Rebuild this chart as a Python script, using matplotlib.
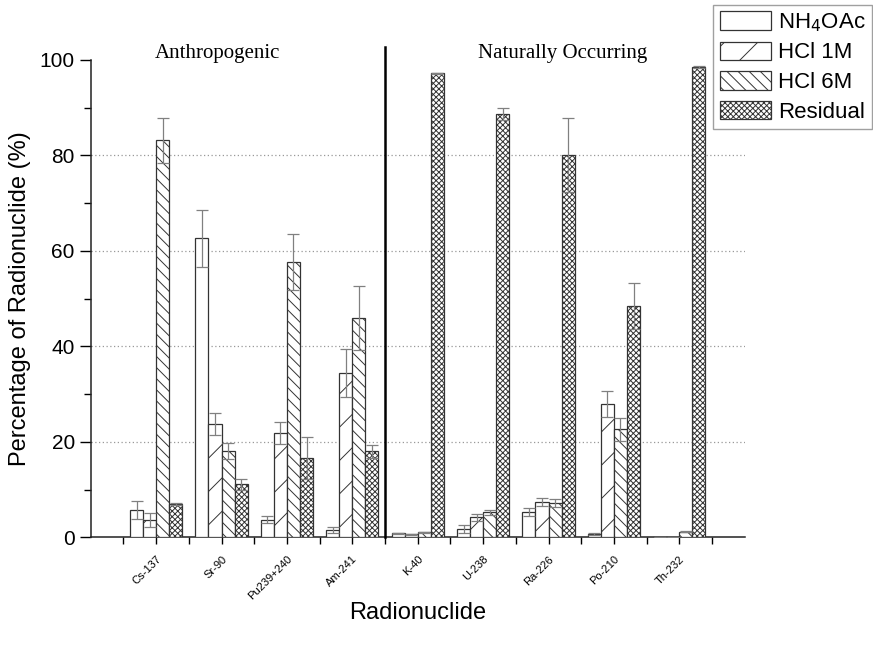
import numpy as np
import matplotlib
matplotlib.use('Agg')
import matplotlib.pyplot as plt

plt.rcParams['font.family'] = ['Liberation Sans', 'DejaVu Sans']
plt.rcParams['hatch.linewidth'] = 0.7
plt.rcParams['hatch.color'] = '#333333'

radionucleidos = ['Cs-137', 'Sr-90', 'Pu239+240', 'Am-241', 'K-40',
                  'U-238', 'Ra-226', 'Po-210', 'Th-232']
fracciones = ['NH$_4$OAc', 'HCl 1M', 'HCl 6M', 'Residual']

nh4oac = [5.7, 62.6, 3.7, 1.5, 0.8, 1.7, 5.3, 0.6, 0.1]
hcl_1m = [3.6, 23.7, 21.8, 34.4, 0.6, 4.2, 7.4, 27.9, 0.1]
hcl_6m = [83.2, 18.0, 57.7, 45.9, 1.1, 5.2, 7.2, 22.6, 1.2]
residual = [6.9, 11.1, 16.6, 18.0, 97.2, 88.7, 80.1, 48.4, 98.5]

err_nh4oac = [1.9, 6.0, 0.7, 0.6, 0.1, 0.8, 0.8, 0.2, 0.0]
err_hcl_1m = [1.5, 2.3, 2.3, 5.0, 0.1, 0.7, 0.9, 2.7, 0.0]
err_hcl_6m = [4.7, 1.7, 5.8, 6.7, 0.1, 0.6, 0.9, 2.4, 0.1]
err_residual = [0.2, 1.1, 4.4, 1.3, 0.1, 1.2, 7.7, 4.8, 0.2]

series = [nh4oac, hcl_1m, hcl_6m, residual]
errores = [err_nh4oac, err_hcl_1m, err_hcl_6m, err_residual]
tramas = ['', '/', '\\\\\\', 'xxxxxx']

fig = plt.figure(figsize=(8.73, 6.45), dpi=100)
ax = fig.add_axes([0.104, 0.167, 0.749, 0.74])

x = np.arange(1, len(radionucleidos) + 1)
ancho = 0.2
for i, (vals, errs, trama, nombre) in enumerate(zip(series, errores, tramas, fracciones)):
    pos = x + (i - 1.5) * ancho
    ax.bar(pos, vals, ancho, color='white', edgecolor='#333333', linewidth=0.9,
           hatch=trama, label=nombre, zorder=3)
    ax.errorbar(pos, vals, yerr=errs, fmt='none', ecolor='#808080',
                elinewidth=0.9, capsize=4, capthick=0.9, zorder=4)

ax.set_xlim(0, 10)
ax.set_ylim(0, 100)
ax.set_xticks(x)
ax.set_xticks(np.arange(0.5, 10, 1.0), minor=True)
ax.set_xticklabels(radionucleidos, rotation=45, ha='right', fontsize=8,
                   rotation_mode='anchor')
ax.set_yticks([0, 20, 40, 60, 80, 100])
ax.set_yticks(np.arange(10, 100, 20), minor=True)
ax.tick_params(axis='y', labelsize=15, length=8, width=1)
ax.tick_params(axis='y', which='minor', length=5, width=1)
ax.tick_params(axis='x', which='both', length=5, width=1, pad=7)

for y in [20, 40, 60, 80]:
    ax.axhline(y, color='#999999', linestyle=(0, (1, 2)), linewidth=0.9, zorder=1)

for lado in ['top', 'right']:
    ax.spines[lado].set_visible(False)
for lado in ['left', 'bottom']:
    ax.spines[lado].set_linewidth(1.1)
    ax.spines[lado].set_color('#222222')

ax.plot([4.5, 4.5], [0, 102.8], color='black', linewidth=1.8, clip_on=False, zorder=5)
ax.text(1.93, 101.3, 'Anthropogenic', family='Liberation Serif', fontsize=15,
        ha='center', va='center')
ax.text(7.22, 101.3, 'Naturally Occurring', family='Liberation Serif', fontsize=15,
        ha='center', va='center')

ax.set_xlabel('Radionuclide', fontsize=17, labelpad=0)
ax.set_ylabel('Percentage of Radionuclide (%)', fontsize=17, labelpad=6)

leg = fig.legend(loc='upper right', bbox_to_anchor=(0.999, 0.993), fontsize=16,
                 frameon=True, fancybox=False, edgecolor='#888888',
                 handlelength=2.3, handleheight=0.9, handletextpad=0.3,
                 borderpad=0.3, labelspacing=0.35, borderaxespad=0)
leg.get_frame().set_linewidth(1.0)

fig.savefig('out.png', dpi=100)
